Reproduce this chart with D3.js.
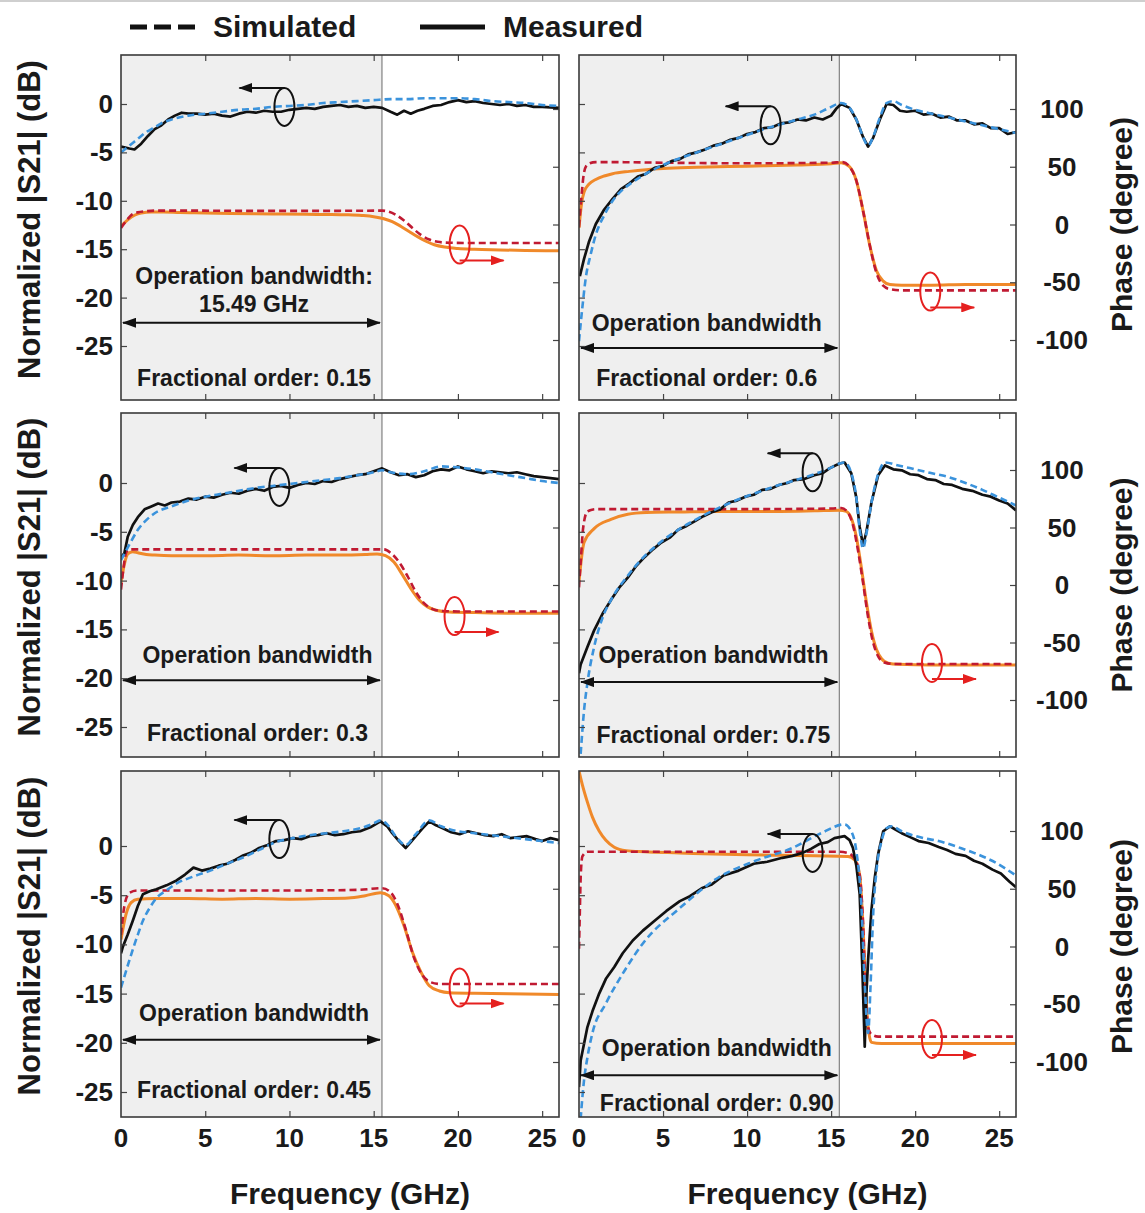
<!DOCTYPE html>
<html>
<head>
<meta charset="utf-8">
<script src="https://cdn.jsdelivr.net/npm/d3@7"></script>
<style>
  body { margin: 0; background: #fff; }
  text { font-family: Arial, "Liberation Sans", sans-serif; font-weight: bold; fill: #1a1a1a; }
</style>
</head>
<body>
<svg id="chart" width="1145" height="1213"></svg>
<script>
// ---- data (frequency in GHz, |S21| in dB, phase in degree) ----
const xTicks = [0, 5, 10, 15, 20, 25];
const dbTicks = [0, -5, -10, -15, -20, -25];
const phaseTicks = [100, 50, 0, -50, -100];
const bandwidth = 15.49;
const orders = ['0.15', '0.6', '0.3', '0.75', '0.45', '0.90'];

// panel A : order 0.15
const simS21A = [[0,-5.0],[0.5,-4.3],[1,-3.6],[1.5,-2.9],[2,-2.4],[2.5,-1.9],[3,-1.6],[4,-1.2],[5,-1.0],[6,-0.8],[7,-0.6],[8,-0.5],[9,-0.3],[10,-0.2],[11,-0.1],[12,0.1],[13,0.2],[14,0.3],[15,0.4],[16,0.5],[17,0.5],[18,0.6],[19,0.6],[20,0.6],[21,0.5],[22,0.3],[23,0.2],[24,0.1],[25,-0.1],[26,-0.2]];
const measS21A = [[0,-4.4],[0.5,-4.6],[0.8,-4.7],[1.2,-4.1],[1.6,-3.3],[2,-2.6],[2.4,-2.2],[2.8,-1.6],[3.2,-1.2],[3.6,-0.9],[4,-1.0],[4.5,-1.0],[5,-1.1],[5.5,-1.0],[6,-1.2],[6.5,-1.3],[7,-1.0],[7.5,-0.8],[8,-0.9],[8.5,-0.7],[9,-0.8],[9.5,-0.8],[10,-0.6],[10.5,-0.5],[11,-0.4],[11.5,-0.5],[12,-0.3],[12.5,-0.2],[13,-0.1],[13.5,-0.3],[14,-0.2],[14.5,-0.4],[15,-0.3],[15.5,-0.4],[16,-0.8],[16.4,-1.1],[16.8,-0.7],[17.2,-1.0],[17.6,-0.7],[18,-0.5],[18.5,-0.2],[19,-0.1],[19.5,0.2],[20,0.4],[20.5,0.2],[21,0.3],[21.5,0.1],[22,0.0],[22.5,-0.1],[23,0.0],[23.5,-0.2],[24,-0.1],[24.5,-0.3],[25,-0.3],[26,-0.4]];
const simPhA = [[0,-3],[0.3,3],[0.6,8],[1,10.5],[1.5,11.5],[2,12],[4,12],[8,11.8],[12,11.8],[15.5,12],[15.9,11],[16.3,8.5],[16.8,3.5],[17.3,-3],[17.8,-9],[18.3,-13],[18.8,-15],[19.5,-15.8],[21,-16],[26,-16]];
const measPhA = [[0,-1.5],[0.4,4],[0.8,8],[1.2,10],[1.8,10.8],[2.5,10.8],[3.5,10.3],[5,10],[6.5,9.5],[8,9.2],[9.5,9],[11,8.8],[12.5,8.7],[13.5,8.4],[14.3,7.8],[15,6.8],[15.6,5],[16.1,2.5],[16.6,-1.5],[17.1,-6],[17.6,-10.5],[18.1,-14.5],[18.6,-17.5],[19.2,-19.5],[20,-20.8],[21,-21.5],[22.5,-22],[24,-22.5],[26,-22.8]];

// panel B : order 0.6
const simS21B = [[0,-24.5],[0.2,-21],[0.4,-18],[0.7,-15.5],[1,-13.5],[1.5,-11.5],[2,-10],[2.5,-9],[3,-8.3],[4,-7.2],[5,-6.3],[6,-5.6],[7,-5],[8,-4.4],[9,-3.8],[10,-3.2],[11,-2.6],[12,-2.1],[13,-1.6],[14,-1.1],[14.9,-0.4],[15.6,0.1],[16.1,-0.4],[16.5,-1.6],[16.9,-3.4],[17.2,-4.3],[17.5,-3.4],[17.9,-1.4],[18.3,0.1],[18.7,0.3],[19.2,-0.1],[20,-0.6],[21,-1.0],[22,-1.4],[23,-1.8],[24,-2.2],[25,-2.6],[26,-3.0]];
const measS21B = [[0.05,-17.8],[0.3,-16],[0.6,-14.2],[1,-12.4],[1.5,-10.9],[2,-9.8],[2.5,-8.8],[3,-8.2],[3.5,-7.5],[4,-7.2],[4.5,-6.6],[5,-6.4],[5.5,-5.9],[6,-5.7],[6.5,-5.2],[7,-5.0],[7.5,-4.7],[8,-4.3],[8.5,-4.1],[9,-3.7],[9.5,-3.5],[10,-3.1],[10.5,-2.9],[11,-2.5],[11.5,-2.4],[12,-2.0],[12.5,-1.9],[13,-1.6],[13.5,-1.7],[14,-1.4],[14.5,-1.6],[15,-1.2],[15.3,-0.5],[15.6,0.0],[16.1,-0.4],[16.5,-1.6],[16.9,-3.4],[17.2,-4.4],[17.5,-3.5],[17.9,-1.6],[18.3,0.0],[18.7,-0.1],[19.1,-0.7],[19.5,-0.8],[20,-0.7],[20.5,-1.1],[21,-1.0],[21.5,-1.4],[22,-1.3],[22.5,-1.7],[23,-1.7],[23.5,-2.1],[24,-2.0],[24.5,-2.5],[25,-2.5],[25.5,-3.1],[26,-2.9]];
const simPhB = [[0,-2],[0.15,25],[0.3,45],[0.5,52],[1,54],[2,54],[5,53.5],[10,53],[15,53.5],[15.7,54],[16.1,50],[16.5,38],[16.9,12],[17.3,-18],[17.7,-42],[18.1,-53],[18.5,-56],[19.2,-57],[26,-57]];
const measPhB = [[0,-3],[0.15,18],[0.3,28],[0.6,35],[1,39],[1.5,42],[2,44],[3,46],[4,47.5],[5,48.5],[7,49.5],[10,50.5],[13,51.5],[15,52.5],[15.6,53.5],[16.1,50],[16.5,38],[16.9,12],[17.3,-18],[17.7,-40],[18.1,-49],[18.5,-52],[19.2,-52.5],[21,-52.5],[23,-52],[26,-52]];

// panel C : order 0.3
const simS21C = [[0,-7.9],[0.5,-6.3],[1,-4.8],[1.5,-3.8],[2,-3.1],[3,-2.4],[4,-1.8],[5,-1.4],[6,-1.1],[7,-0.8],[8,-0.5],[9,-0.3],[10,-0.1],[11,0.1],[12,0.3],[13,0.5],[14,0.8],[15,1.1],[15.5,1.3],[16,1.1],[17,0.9],[18,1.2],[19,1.7],[20,1.6],[21,1.4],[22,1.1],[23,0.8],[24,0.5],[25,0.2],[26,0]];
const measS21C = [[0,-7.6],[0.2,-7.2],[0.4,-5.5],[0.7,-4.3],[1,-3.5],[1.4,-2.7],[1.8,-2.4],[2.2,-2.1],[2.6,-2.3],[3,-2.0],[3.5,-1.9],[4,-1.6],[4.5,-1.7],[5,-1.4],[5.5,-1.5],[6,-1.2],[6.5,-1.0],[7,-1.1],[7.5,-0.8],[8,-0.6],[8.5,-0.8],[9,-0.4],[9.5,-0.3],[10,-0.5],[10.5,-0.2],[11,0.0],[11.5,-0.1],[12,0.2],[12.5,0.1],[13,0.4],[13.5,0.6],[14,0.8],[14.5,0.9],[15,1.2],[15.5,1.5],[16,1.1],[16.5,0.8],[17,0.9],[17.5,0.6],[18,0.8],[18.5,1.2],[19,1.4],[19.5,1.3],[20,1.7],[20.5,1.4],[21,1.2],[21.5,1.0],[22,1.2],[22.5,1.1],[23,1.0],[23.5,1.1],[24,0.9],[24.5,0.7],[25,0.6],[26,0.4]];
const simPhC = [[0,-4],[0.15,15],[0.3,28],[0.5,31],[1,31],[8,31],[15.6,31],[16,28],[16.5,20],[17,8],[17.5,-6],[18,-16],[18.5,-21],[19,-22.5],[20,-23],[26,-23]];
const measPhC = [[0,2],[0.2,18],[0.4,27],[0.7,29],[1,28],[1.5,26.5],[2,26],[3,25.5],[5,25.5],[7,26],[9,25.5],[11,26],[13,26],[14.5,26.5],[15.2,27],[15.7,25.5],[16.2,20],[16.7,9],[17.2,-3],[17.7,-13],[18.2,-19],[18.7,-22],[19.5,-23.5],[21,-24],[23,-24.5],[26,-24.5]];

// panel D : order 0.75
const simS21D = [[0,-30],[0.1,-27.7],[0.3,-23.3],[0.5,-20.5],[0.9,-16.8],[1.4,-13.8],[1.9,-12.0],[2.9,-9.5],[3.9,-7.5],[4.9,-6.0],[5.9,-4.8],[6.9,-3.8],[7.9,-2.9],[8.9,-2.1],[9.9,-1.4],[10.9,-0.8],[11.9,-0.2],[12.9,0.3],[14,0.9],[14.9,1.5],[15.5,2.0],[15.8,2.1],[16.2,1.0],[16.5,-1.5],[16.7,-4.8],[16.9,-6.7],[17.1,-5.2],[17.4,-2.0],[17.8,0.9],[18.2,2.1],[19,1.8],[20,1.4],[21,1.0],[22,0.6],[23,0.0],[24,-0.7],[25,-1.5],[26,-2.3]];
const measS21D = [[0,-19.5],[0.1,-18.6],[0.5,-16.8],[0.9,-15.1],[1.4,-13.4],[1.9,-12.0],[2.4,-10.7],[2.9,-9.7],[3.4,-8.5],[3.9,-7.6],[4.4,-6.8],[4.9,-6.1],[5.4,-5.6],[5.9,-4.8],[6.4,-4.4],[6.9,-3.9],[7.4,-3.4],[7.9,-3.0],[8.4,-2.7],[8.9,-2.0],[9.4,-1.8],[9.9,-1.4],[10.4,-1.2],[10.9,-0.7],[11.4,-0.6],[11.9,-0.2],[12.4,0.0],[12.8,0.3],[13.4,0.4],[14,0.8],[14.5,1.0],[14.9,1.5],[15.5,2.0],[15.8,2.1],[16.2,1.0],[16.5,-1.5],[16.7,-4.5],[16.9,-6.4],[17.1,-5.0],[17.4,-2.0],[17.8,0.8],[18.2,1.8],[18.7,1.4],[19.2,1.3],[19.7,0.9],[20.2,0.8],[20.7,0.4],[21.2,0.3],[21.7,-0.1],[22.2,-0.2],[22.8,-0.6],[23.4,-0.8],[24,-1.2],[24.5,-1.4],[25,-1.8],[25.5,-2.1],[26,-2.8]];
const simPhD = [[0,-2],[0.1,20],[0.25,50],[0.5,64],[1,66],[5,66],[10,66],[15,66.5],[15.6,67],[16,63],[16.3,52],[16.6,30],[16.9,2],[17.2,-28],[17.5,-50],[17.8,-62],[18.2,-67.5],[18.8,-68.7],[26,-68.7]];
const measPhD = [[0,3],[0.3,37],[0.9,49],[1.9,57],[2.9,61.5],[4,63],[6,63.5],[8,64],[10,64],[12,64],[14,64.5],[15.5,65],[15.9,64],[16.2,58],[16.5,42],[16.8,15],[17.1,-15],[17.4,-40],[17.7,-56],[18,-64],[18.4,-68],[19,-69],[21,-69.5],[23,-69.5],[26,-69.5]];

// panel E : order 0.45
const simS21E = [[0,-14.4],[0.5,-11.6],[1,-9],[1.3,-7.6],[1.7,-6.3],[2.1,-5.3],[2.7,-4.5],[3.3,-3.8],[4.3,-3.1],[5.3,-2.5],[6.3,-1.8],[7.2,-1.2],[8.2,-0.4],[9.2,0.4],[10.2,0.8],[11.2,1.1],[12.2,1.3],[13.2,1.5],[14.2,1.8],[15,2.3],[15.4,2.6],[15.8,2.2],[16.3,1.0],[16.9,0.1],[17.5,1.2],[18.3,2.6],[19,2.0],[20,1.5],[21,1.3],[22,1.1],[23,0.9],[24,0.7],[25,0.5],[26,0.3]];
const measS21E = [[0,-10.9],[0.1,-10.3],[0.4,-9],[0.7,-7.6],[1,-6.1],[1.3,-4.9],[1.7,-4.6],[2.1,-4.4],[2.7,-4.0],[3.3,-3.5],[3.8,-2.9],[4.3,-2.2],[4.8,-2.5],[5.3,-2.3],[5.8,-2.0],[6.3,-1.8],[6.8,-1.4],[7.2,-1.0],[7.7,-0.7],[8.2,-0.2],[8.7,0.1],[9.2,0.5],[9.7,0.6],[10.2,0.8],[10.7,0.7],[11.2,1.0],[11.7,1.1],[12.2,1.3],[12.7,1.1],[13.2,1.2],[13.7,1.4],[14.2,1.5],[14.8,1.9],[15.4,2.5],[15.8,2.0],[16.1,1.3],[16.5,0.5],[16.9,-0.2],[17.2,0.4],[17.5,1.0],[17.9,1.8],[18.3,2.5],[18.7,2.1],[19.1,1.8],[19.6,1.4],[20.1,1.2],[20.6,1.5],[21.1,1.3],[21.6,1.1],[22.1,1.0],[22.6,1.2],[23.1,0.8],[23.6,0.9],[24.1,1.0],[24.6,0.7],[25,0.5],[25.5,0.8],[26,0.6]];
const simPhE = [[0,10],[0.2,35],[0.5,46.5],[1,48.5],[5,48.5],[10,48.5],[14,49],[15.5,50.5],[16,47],[16.4,37],[16.9,15],[17.4,-10],[17.9,-25],[18.4,-31],[19,-32.5],[26,-32.5]];
const measPhE = [[0,6],[0.3,28],[0.6,38],[1,41],[2,41.5],[4,41.5],[6,41],[8,41.5],[10,41],[12,41.5],[13.5,42],[14.5,44],[15.4,46.5],[15.9,44],[16.3,36],[16.8,18],[17.3,-5],[17.8,-22],[18.3,-34],[18.9,-38.5],[19.5,-40],[21,-40.5],[23,-41],[26,-41.5]];

// panel F : order 0.90
const simS21F = [[0,-30],[0.3,-23.8],[0.5,-21.5],[0.8,-19],[1.6,-16],[2.7,-12.7],[3.8,-9.9],[6,-6.3],[8.3,-3.2],[10.5,-1.5],[12.7,-0.2],[14.4,1.3],[15.8,2.2],[16.2,1.5],[16.5,-0.5],[16.8,-6],[17.0,-14],[17.2,-19],[17.35,-14],[17.5,-7],[17.7,-2.5],[18,0.5],[18.3,1.8],[18.6,2.0],[19.2,1.5],[20.5,0.8],[21.4,0.5],[22.7,-0.2],[23.5,-0.7],[24.8,-1.7],[26,-3.0]];
const measS21F = [[0,-24.5],[0.1,-21.8],[0.5,-18.4],[0.8,-16.8],[1.2,-15],[1.6,-13.5],[2.1,-12.3],[2.6,-10.9],[3.2,-9.6],[3.8,-8.6],[4.5,-7.6],[5.2,-6.6],[6.0,-5.6],[6.6,-5.1],[7.3,-4.3],[7.9,-3.9],[8.6,-3.0],[9.5,-2.5],[10.4,-1.8],[11.2,-1.6],[12.1,-1.2],[12.7,-1.0],[13.3,-0.7],[13.8,-0.3],[14.3,0.2],[14.8,0.4],[15.2,0.8],[15.8,1.0],[16.1,0.6],[16.3,-0.2],[16.5,-2],[16.7,-4.9],[16.85,-12],[17.0,-20.4],[17.1,-15],[17.2,-11.6],[17.4,-6.5],[17.6,-3.2],[17.8,-0.8],[18.1,1.5],[18.5,2.0],[18.8,1.7],[19.2,1.3],[19.7,0.9],[20.2,0.5],[20.8,0.3],[21.4,-0.1],[21.9,-0.4],[22.4,-0.8],[23,-1.0],[23.5,-1.5],[24,-1.8],[24.6,-2.4],[25.1,-2.8],[25.6,-3.6],[26,-4.2]];
const simPhF = [[0,-2],[0.05,30],[0.1,60],[0.2,78],[0.5,82],[1,82],[5,82],[10,82],[14,82],[15.5,82],[16,81],[16.4,76],[16.7,62],[16.9,20],[17.05,-40],[17.2,-70],[17.4,-76],[17.8,-78],[26,-78]];
const measPhF = [[0,152],[0.2,140],[0.5,125],[0.8,112],[1.2,100],[1.6,92],[2.1,86],[2.8,83],[3.9,82],[6,81],[8,80],[10,79.5],[12,79],[14,78.5],[16,78],[16.4,75],[16.7,62],[16.9,17],[17.1,-50],[17.25,-75],[17.4,-83],[18,-84],[20,-84],[23,-84],[26,-84]];

// ---- layout ----
const rows = [
  {top: 55,  bottom: 400,  db0: 104, db25: 346,  ph100: 109, phm100: 340},
  {top: 413, bottom: 757,  db0: 483, db25: 727,  ph100: 470, phm100: 700},
  {top: 771, bottom: 1117, db0: 846, db25: 1092, ph100: 831, phm100: 1062}
];
const cols = [{left: 121, right: 559}, {left: 579, right: 1016}];

const panels = [
  {row:0, col:0, sim:simS21A, meas:measS21A, simPh:simPhA, measPh:measPhA, opText:['Operation bandwidth:','15.49 GHz'], opY:[-17.8,-20.7], arrowY:-22.6, fracY:-28.3, textF:7.9, s21Mark:[9.7,-0.3], phMark:[20.1,-17.3]},
  {row:0, col:1, sim:simS21B, meas:measS21B, simPh:simPhB, measPh:measPhB, opText:['Operation bandwidth'], opY:[-22.6], arrowY:-25.2, fracY:-28.3, textF:7.6, s21Mark:[11.4,-2.2], phMark:[20.9,-58]},
  {row:1, col:0, sim:simS21C, meas:measS21C, simPh:simPhC, measPh:measPhC, opText:['Operation bandwidth'], opY:[-17.6], arrowY:-20.2, fracY:-25.6, textF:8.1, s21Mark:[9.4,-0.4], phMark:[19.8,-27]},
  {row:1, col:1, sim:simS21D, meas:measS21D, simPh:simPhD, measPh:measPhD, opText:['Operation bandwidth'], opY:[-17.6], arrowY:-20.4, fracY:-25.8, textF:8.0, s21Mark:[13.9,1.1], phMark:[21.0,-67.8]},
  {row:2, col:0, sim:simS21E, meas:measS21E, simPh:simPhE, measPh:measPhE, opText:['Operation bandwidth'], opY:[-17.0], arrowY:-19.7, fracY:-24.8, textF:7.9, s21Mark:[9.4,0.7], phMark:[20.1,-35.5]},
  {row:2, col:1, sim:simS21F, meas:measS21F, simPh:simPhF, measPh:measPhF, opText:['Operation bandwidth'], opY:[-20.5], arrowY:-23.3, fracY:-26.1, textF:8.2, s21Mark:[13.9,-0.7], phMark:[21.0,-80]}
];

const colors = {sim: '#3b93dc', meas: '#111111', simPh: '#c01a32', measPh: '#f0892a', shade: '#efefef', frame: '#3a3a3a'};

const svg = d3.select('#chart');
const defs = svg.append('defs');

function arrowHead(id, color) {
  defs.append('marker')
    .attr('id', id)
    .attr('viewBox', '0 0 14 10')
    .attr('refX', 13).attr('refY', 5)
    .attr('markerWidth', 14).attr('markerHeight', 10)
    .attr('markerUnits', 'userSpaceOnUse')
    .attr('orient', 'auto-start-reverse')
    .append('path').attr('d', 'M0,0L14,5L0,10z').attr('fill', color);
}
arrowHead('headK', '#111');
arrowHead('headR', '#e5201f');

// faint top border of the figure
svg.append('line').attr('x1', 0).attr('x2', 1145).attr('y1', 1).attr('y2', 1)
  .attr('stroke', '#cfcfcf').attr('stroke-width', 2);

// ---- legend ----
const legend = svg.append('g');
legend.append('line').attr('x1', 130).attr('x2', 195).attr('y1', 27).attr('y2', 27)
  .attr('stroke', '#111').attr('stroke-width', 5).attr('stroke-dasharray', '17,7');
legend.append('text').attr('x', 213).attr('y', 37).attr('font-size', 30).text('Simulated');
legend.append('line').attr('x1', 420).attr('x2', 485).attr('y1', 27).attr('y2', 27)
  .attr('stroke', '#111').attr('stroke-width', 5);
legend.append('text').attr('x', 503).attr('y', 37).attr('font-size', 30).text('Measured');

// ---- panels ----
panels.forEach((p, i) => {
  const r = rows[p.row], c = cols[p.col];
  const x = d3.scaleLinear().domain([0, 26]).range([c.left, c.right]);
  const yDb = d3.scaleLinear().domain([0, -25]).range([r.db0, r.db25]);
  const yPh = d3.scaleLinear().domain([100, -100]).range([r.ph100, r.phm100]);
  const g = svg.append('g');

  const clipId = 'clip' + i;
  defs.append('clipPath').attr('id', clipId).append('rect')
    .attr('x', c.left).attr('y', r.top).attr('width', c.right - c.left).attr('height', r.bottom - r.top);

  // shaded operation band
  g.append('rect').attr('x', x(0)).attr('y', r.top)
    .attr('width', x(bandwidth) - x(0)).attr('height', r.bottom - r.top)
    .attr('fill', colors.shade);
  g.append('line').attr('x1', x(bandwidth)).attr('x2', x(bandwidth))
    .attr('y1', r.top).attr('y2', r.bottom)
    .attr('stroke', '#8a8a8a').attr('stroke-width', 1.3);

  // curves
  const curves = g.append('g').attr('clip-path', `url(#${clipId})`);
  const lineDb = d3.line().x(d => x(d[0])).y(d => yDb(d[1]));
  const smoothDb = d3.line().x(d => x(d[0])).y(d => yDb(d[1])).curve(d3.curveMonotoneX);
  const smoothPh = d3.line().x(d => x(d[0])).y(d => yPh(d[1])).curve(d3.curveMonotoneX);

  curves.append('path').attr('d', smoothPh(p.measPh)).attr('fill', 'none')
    .attr('stroke', colors.measPh).attr('stroke-width', 3);
  curves.append('path').attr('d', smoothPh(p.simPh)).attr('fill', 'none')
    .attr('stroke', colors.simPh).attr('stroke-width', 2.6).attr('stroke-dasharray', '7,4');
  curves.append('path').attr('d', lineDb(p.meas)).attr('fill', 'none')
    .attr('stroke', colors.meas).attr('stroke-width', 2.7).attr('stroke-linejoin', 'round');
  curves.append('path').attr('d', smoothDb(p.sim)).attr('fill', 'none')
    .attr('stroke', colors.sim).attr('stroke-width', 2.6).attr('stroke-dasharray', '7,4');

  // operation bandwidth arrow and texts
  g.append('line')
    .attr('x1', x(0) + 2).attr('x2', x(bandwidth) - 2)
    .attr('y1', yDb(p.arrowY)).attr('y2', yDb(p.arrowY))
    .attr('stroke', '#111').attr('stroke-width', 2)
    .attr('marker-start', 'url(#headK)').attr('marker-end', 'url(#headK)');
  p.opText.forEach((t, k) => {
    g.append('text').attr('x', x(p.textF)).attr('y', yDb(p.opY[k]))
      .attr('text-anchor', 'middle').attr('dominant-baseline', 'central')
      .attr('font-size', 23).text(t);
  });
  g.append('text').attr('x', x(p.textF)).attr('y', yDb(p.fracY))
    .attr('text-anchor', 'middle').attr('dominant-baseline', 'central')
    .attr('font-size', 23).text('Fractional order: ' + orders[i]);

  // axis markers: ellipse + arrow
  const ex = x(p.s21Mark[0]), ey = yDb(p.s21Mark[1]);
  g.append('ellipse').attr('cx', ex).attr('cy', ey).attr('rx', 10).attr('ry', 19)
    .attr('fill', 'none').attr('stroke', '#111').attr('stroke-width', 2);
  g.append('line').attr('x1', ex).attr('x2', ex - 45).attr('y1', ey - 19).attr('y2', ey - 19)
    .attr('stroke', '#111').attr('stroke-width', 2).attr('marker-end', 'url(#headK)');
  const rx = x(p.phMark[0]), ry = yPh(p.phMark[1]);
  g.append('ellipse').attr('cx', rx).attr('cy', ry).attr('rx', 10).attr('ry', 19)
    .attr('fill', 'none').attr('stroke', '#e5201f').attr('stroke-width', 2);
  g.append('line').attr('x1', rx).attr('x2', rx + 44).attr('y1', ry + 16).attr('y2', ry + 16)
    .attr('stroke', '#e5201f').attr('stroke-width', 2).attr('marker-end', 'url(#headR)');

  // ticks (inside)
  const tickStyle = sel => {
    sel.select('.domain').remove();
    sel.selectAll('.tick line').attr('stroke', '#444').attr('stroke-width', 1.2);
    sel.selectAll('.tick text').remove();
  };
  g.append('g').attr('transform', `translate(0,${r.bottom})`)
    .call(d3.axisBottom(x).tickValues([5, 10, 15, 20, 25]).tickSize(-6)).call(tickStyle);
  g.append('g').attr('transform', `translate(0,${r.top})`)
    .call(d3.axisTop(x).tickValues([5, 10, 15, 20, 25]).tickSize(-6)).call(tickStyle);
  g.append('g').attr('transform', `translate(${c.left},0)`)
    .call(d3.axisLeft(yDb).tickValues(dbTicks).tickSize(-6)).call(tickStyle);
  g.append('g').attr('transform', `translate(${c.right},0)`)
    .call(d3.axisRight(yPh).tickValues(phaseTicks).tickSize(-6)).call(tickStyle);

  // frame
  g.append('rect').attr('x', c.left).attr('y', r.top)
    .attr('width', c.right - c.left).attr('height', r.bottom - r.top)
    .attr('fill', 'none').attr('stroke', colors.frame).attr('stroke-width', 1.6);

  // tick labels and axis titles
  if (p.col === 0) {
    dbTicks.forEach(v => {
      svg.append('text').attr('x', c.left - 8).attr('y', yDb(v))
        .attr('text-anchor', 'end').attr('dominant-baseline', 'central')
        .attr('font-size', 26).text(String(v));
    });
    svg.append('text')
      .attr('transform', `translate(29,${(r.top + r.bottom) / 2 - 8}) rotate(-90)`)
      .attr('text-anchor', 'middle').attr('dominant-baseline', 'central')
      .attr('font-size', 31).text('Normalized |S21| (dB)');
  } else {
    phaseTicks.forEach(v => {
      svg.append('text').attr('x', 1062).attr('y', yPh(v))
        .attr('text-anchor', 'middle').attr('dominant-baseline', 'central')
        .attr('font-size', 26).text(String(v));
    });
    svg.append('text')
      .attr('transform', `translate(1121,${yPh(0)}) rotate(-90)`)
      .attr('text-anchor', 'middle').attr('dominant-baseline', 'central')
      .attr('font-size', 30).text('Phase (degree)');
  }
  if (p.row === 2) {
    xTicks.forEach(v => {
      svg.append('text').attr('x', x(v)).attr('y', 1138)
        .attr('text-anchor', 'middle').attr('dominant-baseline', 'central')
        .attr('font-size', 26).text(String(v));
    });
    svg.append('text').attr('x', (c.left + c.right) / 2 + 10).attr('y', 1193)
      .attr('text-anchor', 'middle').attr('dominant-baseline', 'central')
      .attr('font-size', 30).text('Frequency (GHz)');
  }
});
</script>
</body>
</html>
